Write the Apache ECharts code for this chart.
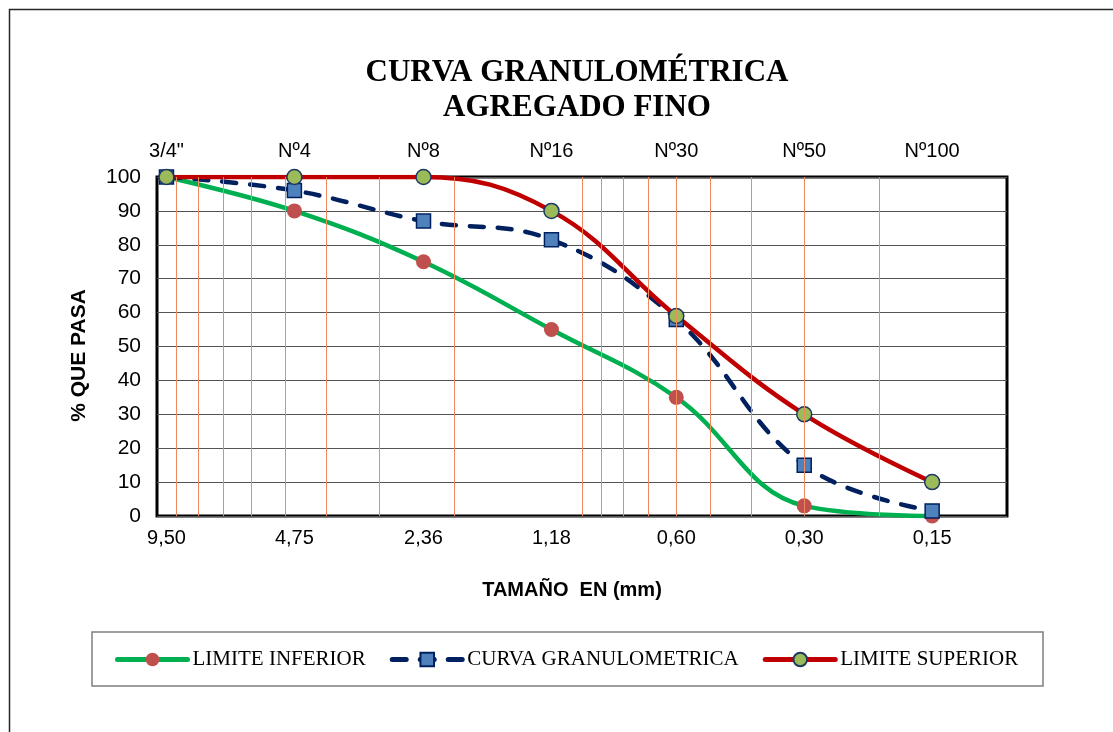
<!DOCTYPE html>
<html>
<head>
<meta charset="utf-8">
<title>Curva granulométrica</title>
<script src="https://cdn.jsdelivr.net/npm/echarts@6/dist/echarts.min.js"></script>
<style>
  html, body { margin: 0; padding: 0; background: #fff; }
  #Curva { width: 1113px; height: 732px; }
</style>
</head>
<body>
<div id="Curva"></div>
<script>
// abertura de tamices (mm) y nombre del tamiz
var aberturas = [9.50, 4.75, 2.36, 1.18, 0.60, 0.30, 0.15];
var tamices = ['3/4"', 'Nº4', 'Nº8', 'Nº16', 'Nº30', 'Nº50', 'Nº100'];
var etiquetasMm = ['9,50', '4,75', '2,36', '1,18', '0,60', '0,30', '0,15'];

// % que pasa
var limiteInferior = [100, 90, 75, 55, 35, 3, 0];
var curvaGranulometrica = [100, 96, 87, 81.5, 58, 15, 1.5];
var limiteSuperior = [100, 100, 100, 90, 59, 30, 10];

// lineas verticales de la cuadricula logaritmica
var lineasLog = [9, 8, 7, 6, 5, 4, 3, 2, 1, 0.9, 0.8, 0.7, 0.6, 0.5, 0.4, 0.3, 0.2];

function pares(valores) {
  return aberturas.map(function (x, i) { return [x, valores[i]]; });
}

var Curva = echarts.init(document.getElementById('Curva'));
Curva.setOption({
  animation: false,
  title: {
    text: 'CURVA GRANULOMÉTRICA\nAGREGADO FINO',
    left: 572,
    top: 50,
    textAlign: 'center',
    textStyle: {
      fontFamily: 'Liberation Serif',
      fontWeight: 'bold',
      fontSize: 31,
      lineHeight: 35,
      color: '#000'
    }
  },
  graphic: [
    {
      type: 'rect',
      shape: { x: 9.5, y: 9.5, width: 1200, height: 800 },
      style: { fill: 'none', stroke: '#262626', lineWidth: 1.5 },
      silent: true
    },
    {
      type: 'rect',
      shape: { x: 92, y: 632, width: 951, height: 54 },
      style: { fill: 'none', stroke: '#7f7f7f', lineWidth: 1.5 },
      silent: true
    }
  ],
  legend: {
    data: ['LIMITE INFERIOR', 'CURVA GRANULOMETRICA', 'LIMITE SUPERIOR'],
    left: 110,
    top: 644,
    itemWidth: 70,
    itemHeight: 17,
    itemGap: 24,
    lineStyle: { width: 5, cap: 'round' },
    textStyle: {
      fontFamily: 'Liberation Serif',
      fontSize: 21,
      color: '#000'
    }
  },
  grid: {
    left: 157,
    right: 106,
    top: 177,
    bottom: 216,
    show: true,
    borderColor: '#000',
    borderWidth: 3
  },
  xAxis: {
    type: 'log',
    logBase: 10,
    min: 0.1,
    max: 10,
    inverse: true,
    name: 'TAMAÑO  EN (mm)',
    nameLocation: 'middle',
    nameGap: 64,
    nameTextStyle: {
      fontFamily: 'Liberation Sans',
      fontWeight: 'bold',
      fontSize: 20,
      color: '#000',
      padding: [0, 20, 0, 0]
    },
    axisLine: { show: false },
    axisTick: { show: false },
    axisLabel: { show: false },
    splitLine: { show: false }
  },
  yAxis: {
    type: 'value',
    min: 0,
    max: 100,
    interval: 10,
    name: '% QUE PASA',
    nameLocation: 'middle',
    nameGap: 67,
    nameTextStyle: {
      fontFamily: 'Liberation Sans',
      fontWeight: 'bold',
      fontSize: 21,
      color: '#000',
      padding: [0, 18, 0, 0]
    },
    axisLine: { show: false },
    axisTick: { show: false },
    axisLabel: {
      margin: 16,
      fontFamily: 'Liberation Sans',
      fontSize: 21,
      color: '#000'
    },
    splitLine: { lineStyle: { color: '#555', width: 1 } }
  },
  series: [
    {
      // cuadricula vertical
      name: 'cuadricula',
      type: 'line',
      data: [],
      silent: true,
      markLine: {
        silent: true,
        symbol: 'none',
        label: { show: false },
        lineStyle: { color: '#ee8a5c', width: 1, type: 'solid' },
        data: lineasLog.map(function (v) { return { xAxis: v }; })
      }
    },
    {
      name: 'LIMITE INFERIOR',
      type: 'line',
      smooth: 0.4,
      data: pares(limiteInferior),
      symbol: 'circle',
      symbolSize: 15,
      itemStyle: { color: '#c0504d' },
      lineStyle: { color: '#00b050', width: 4.5 }
    },
    {
      name: 'CURVA GRANULOMETRICA',
      type: 'line',
      smooth: 0.4,
      data: pares(curvaGranulometrica),
      symbol: 'rect',
      symbolSize: 14,
      itemStyle: { color: '#4f81bd', borderColor: '#002060', borderWidth: 1.5 },
      lineStyle: { color: '#002060', width: 4.5, type: [14, 14], cap: 'round' }
    },
    {
      name: 'LIMITE SUPERIOR',
      type: 'line',
      smooth: 0.4,
      data: pares(limiteSuperior),
      symbol: 'circle',
      symbolSize: 15,
      itemStyle: { color: '#9bbb59', borderColor: '#1f3864', borderWidth: 1.5 },
      lineStyle: { color: '#c00000', width: 4.5 }
    },
    {
      // nombres de tamices (arriba)
      name: 'tamices',
      type: 'scatter',
      symbolSize: 0,
      silent: true,
      itemStyle: { opacity: 1 },
      data: aberturas.map(function (x) { return [x, 100]; }),
      label: {
        show: true,
        position: 'top',
        distance: 16,
        opacity: 1,
        fontFamily: 'Liberation Sans',
        fontSize: 20,
        color: '#000',
        formatter: function (p) { return tamices[p.dataIndex]; }
      }
    },
    {
      // aberturas en mm (abajo)
      name: 'aberturas',
      type: 'scatter',
      symbolSize: 0,
      silent: true,
      itemStyle: { opacity: 1 },
      data: aberturas.map(function (x) { return [x, 0]; }),
      label: {
        show: true,
        position: 'bottom',
        distance: 12,
        opacity: 1,
        fontFamily: 'Liberation Sans',
        fontSize: 20,
        color: '#000',
        formatter: function (p) { return etiquetasMm[p.dataIndex]; }
      }
    }
  ]
});
</script>
</body>
</html>
